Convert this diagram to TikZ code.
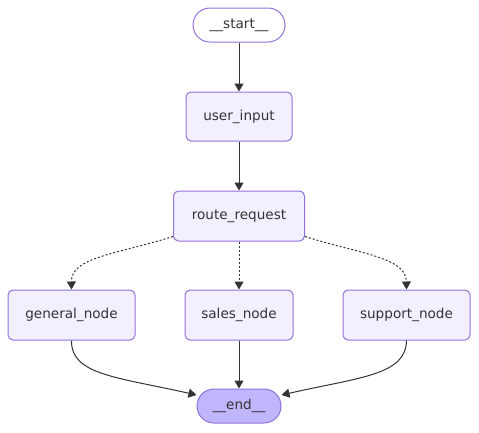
\documentclass[tikz,border=0pt]{standalone}
\usepackage{fontspec}
\setmainfont{DejaVu Sans}
\usetikzlibrary{arrows.meta,calc}
\definecolor{nodefill}{HTML}{F2F0FF}
\definecolor{nodestroke}{HTML}{9370DB}
\definecolor{endfill}{HTML}{BFB6FC}
\definecolor{ink}{HTML}{333333}
\tikzset{
  box/.style={draw=nodestroke, fill=nodefill, line width=1pt, rounded corners=5pt,
    minimum height=50pt, inner sep=0pt, text=ink, font=\fontsize{13.6}{16}\selectfont},
  pill/.style={box, rounded corners=16.9pt, minimum height=34pt},
  edge/.style={draw=ink, line width=1pt, -{Triangle[length=8pt,width=9pt]}},
  dotedge/.style={edge, dash pattern=on 2pt off 2pt},
}
\begin{document}
\begin{tikzpicture}[x=1pt,y=-1pt]
\useasboundingbox (0,0) rectangle (479,432);
\node[pill, fill=white, minimum width=92pt] (start) at (239,25) {\_\_start\_\_};
\node[box, minimum width=106pt, minimum height=49pt] (user) at (239,116.5) {user\_input};
\node[box, minimum width=131pt] (route) at (239,216) {route\_request};
\node[box, minimum width=127pt] (general) at (71.5,315) {general\_node};
\node[box, minimum width=108pt] (sales) at (239,315) {sales\_node};
\node[box, minimum width=127pt] (support) at (406.5,315) {support\_node};
\node[pill, fill=endfill, minimum width=84pt] (end) at (239,406) {\_\_end\_\_};

\draw[edge] (start.south) -- (user.north);
\draw[edge] (user.south) -- (route.north);
\draw[dotedge] ([yshift=5pt]route.south west) .. controls (118,254) and (71,257) .. (general.north);
\draw[dotedge] (route.south) -- (sales.north);
\draw[dotedge] ([yshift=5pt]route.south east) .. controls (360,254) and (406,257) .. (support.north);
\draw[edge] (general.south) .. controls (71,375) and (117,377) .. ([yshift=11pt]end.west);
\draw[edge] (sales.south) -- (end.north);
\draw[edge] (support.south) .. controls (406,375) and (361,377) .. ([yshift=11pt]end.east);
\end{tikzpicture}
\end{document}
